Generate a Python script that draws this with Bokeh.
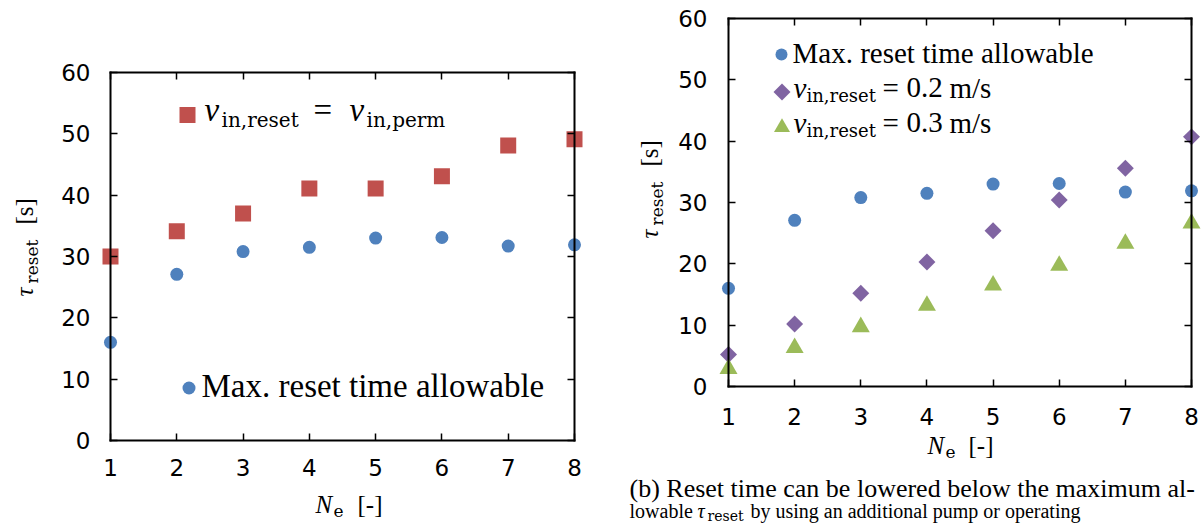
import math
from bokeh.plotting import figure
from bokeh.layouts import row
from bokeh.models import Range1d, LinearAxis, FixedTicker, Label
from bokeh.embed import file_html
from bokeh.resources import INLINE

# ---------------- data ----------------
n_e = [1, 2, 3, 4, 5, 6, 7, 8]
max_reset_allowable = [16.0, 27.1, 30.8, 31.5, 33.0, 33.1, 31.7, 31.9]
reset_v_perm = [30.0, 34.1, 37.0, 41.1, 41.1, 43.1, 48.1, 49.1]
reset_v02 = [5.2, 10.2, 15.2, 20.3, 25.4, 30.4, 35.6, 40.7]
reset_v03 = [2.9, 6.3, 9.7, 13.2, 16.5, 19.7, 23.3, 26.6]
x_ticks = [1, 2, 3, 4, 5, 6, 7, 8]
y_ticks = [0, 10, 20, 30, 40, 50, 60]

BLUE = "#4F81BD"
RED = "#C0504D"
PURPLE = "#8064A2"
GREEN = "#9BBB59"
SERIF = "Liberation Serif"
SUBF = "DejaVu Serif"
SANS = "DejaVu Sans"

X_MIN, X_MAX = x_ticks[0], x_ticks[-1]
Y_MIN, Y_MAX = y_ticks[0], y_ticks[-1]


class Geo:
    """page-pixel layout of one panel; the frame fills the whole figure"""
    def __init__(self, ox, w, h, px1, px8, py0, py60):
        self.ox, self.w, self.h = ox, w, h
        self.px1, self.py0 = px1, py0
        self.ppux = (px8 - px1) / (X_MAX - X_MIN)
        self.ppuy = (py0 - py60) / (Y_MAX - Y_MIN)

    def X(self, px):
        return X_MIN + (px - self.px1) / self.ppux

    def Y(self, py):
        return Y_MIN + (self.py0 - py) / self.ppuy


def make_fig(g, xstand, ystand):
    p = figure(width=g.w, height=g.h, output_backend="svg", toolbar_location=None,
               x_axis_type=None, y_axis_type=None,
               x_range=Range1d(g.X(g.ox), g.X(g.ox + g.w)),
               y_range=Range1d(g.Y(g.h), g.Y(0)),
               min_border=0, min_border_left=0, min_border_right=0,
               min_border_top=0, min_border_bottom=0)
    p.outline_line_color = None
    p.background_fill_color = "white"
    p.border_fill_color = "white"
    common = dict(axis_line_width=2, axis_line_color="black", axis_line_cap="square",
                  major_tick_in=7, major_tick_out=0, major_tick_line_width=1.5,
                  major_tick_line_color="black", minor_tick_line_color=None,
                  major_label_text_font=SANS, major_label_text_font_size="23px",
                  major_label_text_color="black")
    for side, loc in (("below", Y_MIN), ("above", Y_MAX)):
        ax = LinearAxis(fixed_location=loc, bounds=(X_MIN, X_MAX),
                        ticker=FixedTicker(ticks=x_ticks), major_label_standoff=xstand, **common)
        if side == "above":
            ax.major_label_text_color = None
        p.add_layout(ax, side)
    for side, loc in (("left", X_MIN), ("right", X_MAX)):
        ax = LinearAxis(fixed_location=loc, bounds=(Y_MIN, Y_MAX),
                        ticker=FixedTicker(ticks=y_ticks), major_label_standoff=ystand, **common)
        if side == "right":
            ax.major_label_text_color = None
        p.add_layout(ax, side)
    return p


def txt(p, g, px, py, text, size, font=SERIF, italic=False, angle=0.0):
    # (px, py): wanted page position of the text's baseline start
    off = 0.34 * size
    if angle == 0.0:
        py -= off
    else:
        px -= off
    p.add_layout(Label(x=g.X(px), y=g.Y(py), text=text, text_font=font,
                       text_font_size=f"{size}px",
                       text_font_style="italic" if italic else "normal",
                       text_baseline="alphabetic", text_align="left",
                       angle=angle, text_color="black"))


def key(p, g, px, py, **kw):
    p.scatter([g.X(px)], [g.Y(py)], line_color=None, **kw)


SQ = dict(marker="square", size=16, fill_color=RED)
CI = dict(marker="circle", size=13, fill_color=BLUE)
DI = dict(marker="square", size=12, angle=math.pi / 4, fill_color=PURPLE)
TR = dict(marker="triangle", size=18, fill_color=GREEN)

# ---------------- left panel ----------------
g1 = Geo(ox=0, w=600, h=523, px1=110, px8=574, py0=440, py60=72)
p1 = make_fig(g1, xstand=18, ystand=20)
p1.scatter(n_e, reset_v_perm, line_color=None, **SQ)
p1.scatter(n_e, max_reset_allowable, line_color=None, **CI)

key(p1, g1, 187, 114.5, **SQ)
txt(p1, g1, 204, 121, "v", 33, italic=True)
txt(p1, g1, 221, 126, "in,reset", 20, font=SUBF)
txt(p1, g1, 313, 121, "=", 33)
txt(p1, g1, 349, 121, "v", 33, italic=True)
txt(p1, g1, 366, 126, "in,perm", 20, font=SUBF)

key(p1, g1, 188.5, 387.5, **CI)
txt(p1, g1, 201, 397, "Max. reset time allowable", 33)

txt(p1, g1, 32, 296, "τ", 25, italic=True, angle=math.pi / 2)
txt(p1, g1, 37, 283, "reset", 17, font=SUBF, angle=math.pi / 2)
txt(p1, g1, 32, 224, "[s]", 25, angle=math.pi / 2)

txt(p1, g1, 315, 512, "N", 25, italic=True)
txt(p1, g1, 333, 516, "e", 17, font=SUBF)
txt(p1, g1, 357, 512, "[-]", 25)

# ---------------- right panel ----------------
g2 = Geo(ox=600, w=602, h=523, px1=728, px8=1191, py0=386, py60=18)
p2 = make_fig(g2, xstand=21, ystand=21)
p2.scatter(n_e, max_reset_allowable, line_color=None, **CI)
p2.scatter(n_e, reset_v02, line_color=None, **DI)
p2.scatter(n_e, reset_v03, line_color=None, **TR)

key(p2, g2, 781, 54, **dict(CI, size=12))
txt(p2, g2, 792, 62, "Max. reset time allowable", 29)

for (base, val, kw, ky) in ((97, "0.2", DI, 91.5), (132, "0.3", dict(TR, size=16), 127)):
    key(p2, g2, 781.5, ky, **kw)
    txt(p2, g2, 793, base, "v", 29, italic=True)
    txt(p2, g2, 806, base + 4, "in,reset", 18, font=SUBF)
    txt(p2, g2, 882, base, "=", 29)
    txt(p2, g2, 906, base, val, 29)
    txt(p2, g2, 949, base, "m/s", 29)

txt(p2, g2, 657, 238, "τ", 25, italic=True, angle=math.pi / 2)
txt(p2, g2, 662, 225, "reset", 17, font=SUBF, angle=math.pi / 2)
txt(p2, g2, 657, 166, "[s]", 25, angle=math.pi / 2)

txt(p2, g2, 927, 453, "N", 25, italic=True)
txt(p2, g2, 945, 457, "e", 17, font=SUBF)
txt(p2, g2, 968, 453, "[-]", 25)

# caption (b)
txt(p2, g2, 629, 497, "(b) Reset time can be lowered below the maximum al-", 26)
txt(p2, g2, 629, 517, "lowable", 20)
txt(p2, g2, 697, 517, "τ", 20, italic=True)
txt(p2, g2, 707, 520, "reset", 14, font=SUBF)
txt(p2, g2, 750, 517, "by using an additional pump or operating", 20)

layout = row(p1, p2)
open("out.html", "w").write(file_html(layout, INLINE))
